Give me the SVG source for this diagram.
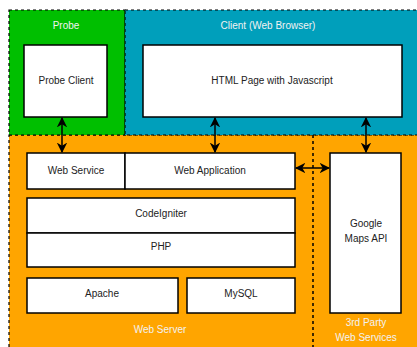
<svg xmlns="http://www.w3.org/2000/svg" width="417" height="347" viewBox="0 0 417 347">
<defs>
<style>
.zone{stroke:#000;stroke-width:1.2;stroke-dasharray:3,3}
.box{fill:#fff;stroke:#000;stroke-width:1.5}
.t{font-family:"Liberation Sans",Arial,sans-serif;font-size:10px;fill:#222;text-anchor:middle}
.zt{font-family:"Liberation Sans",Arial,sans-serif;font-size:10px;fill:#f2f2f2;text-anchor:middle}
.c{stroke:#000;stroke-width:1.5;fill:none;marker-start:url(#ah);marker-end:url(#ah)}
</style>
<marker id="ah" viewBox="0 0 10 10" refX="9" refY="5" markerWidth="7" markerHeight="7" orient="auto-start-reverse" markerUnits="strokeWidth">
<path d="M0,0 L10,5 L0,10 L3,5 Z" fill="#000"/>
</marker>
</defs>
<rect width="417" height="347" fill="#fff"/>
<g id="webserver">
<rect class="zone" x="9" y="135" width="420" height="220" fill="#ffa500"/>
<text class="zt" x="160" y="333">Web Server</text>
</g>
<g id="probe">
<rect class="zone" x="9" y="10" width="116" height="125" fill="#00bf00"/>
<text class="zt" x="66" y="29">Probe</text>
</g>
<g id="client">
<rect class="zone" x="125" y="10" width="300" height="125" fill="#009fbb"/>
<text class="zt" x="268" y="29">Client (Web Browser)</text>
</g>
<g id="thirdparty">
<line x1="313" y1="135" x2="313" y2="347" stroke="#000" stroke-width="1.5" stroke-dasharray="3,3"/>
<text class="zt" x="366" y="326">3rd Party</text>
<text class="zt" x="366" y="341">Web Services</text>
</g>
<g id="probeclient">
<rect class="box" x="24" y="45" width="83" height="72"/>
<text class="t" x="66" y="84">Probe Client</text>
</g>
<g id="htmlpage">
<rect class="box" x="143" y="45" width="259" height="72"/>
<text class="t" x="272" y="84">HTML Page with Javascript</text>
</g>
<g id="webservice">
<rect class="box" x="27" y="153" width="98" height="36"/>
<text class="t" x="76" y="174">Web Service</text>
</g>
<g id="webapplication">
<rect class="box" x="125" y="153" width="170" height="36"/>
<text class="t" x="210" y="174">Web Application</text>
</g>
<g id="codeigniter">
<rect class="box" x="27" y="198" width="268" height="35"/>
<text class="t" x="161" y="217">CodeIgniter</text>
</g>
<g id="php">
<rect class="box" x="27" y="233" width="268" height="34"/>
<text class="t" x="161" y="250">PHP</text>
</g>
<g id="apache">
<rect class="box" x="27" y="278" width="151" height="35"/>
<text class="t" x="102" y="297">Apache</text>
</g>
<g id="mysql">
<rect class="box" x="187" y="278" width="108" height="35"/>
<text class="t" x="241" y="297">MySQL</text>
</g>
<g id="googlemaps">
<rect class="box" x="330" y="153" width="71" height="160"/>
<text class="t" x="366" y="227">Google</text>
<text class="t" x="366" y="242">Maps API</text>
</g>
<g id="connectors">
<line class="c" x1="62" y1="118" x2="62" y2="152"/>
<line class="c" x1="215" y1="118" x2="215" y2="152"/>
<line class="c" x1="366" y1="118" x2="366" y2="152"/>
<line class="c" x1="296" y1="168" x2="329" y2="168"/>
</g>
</svg>
